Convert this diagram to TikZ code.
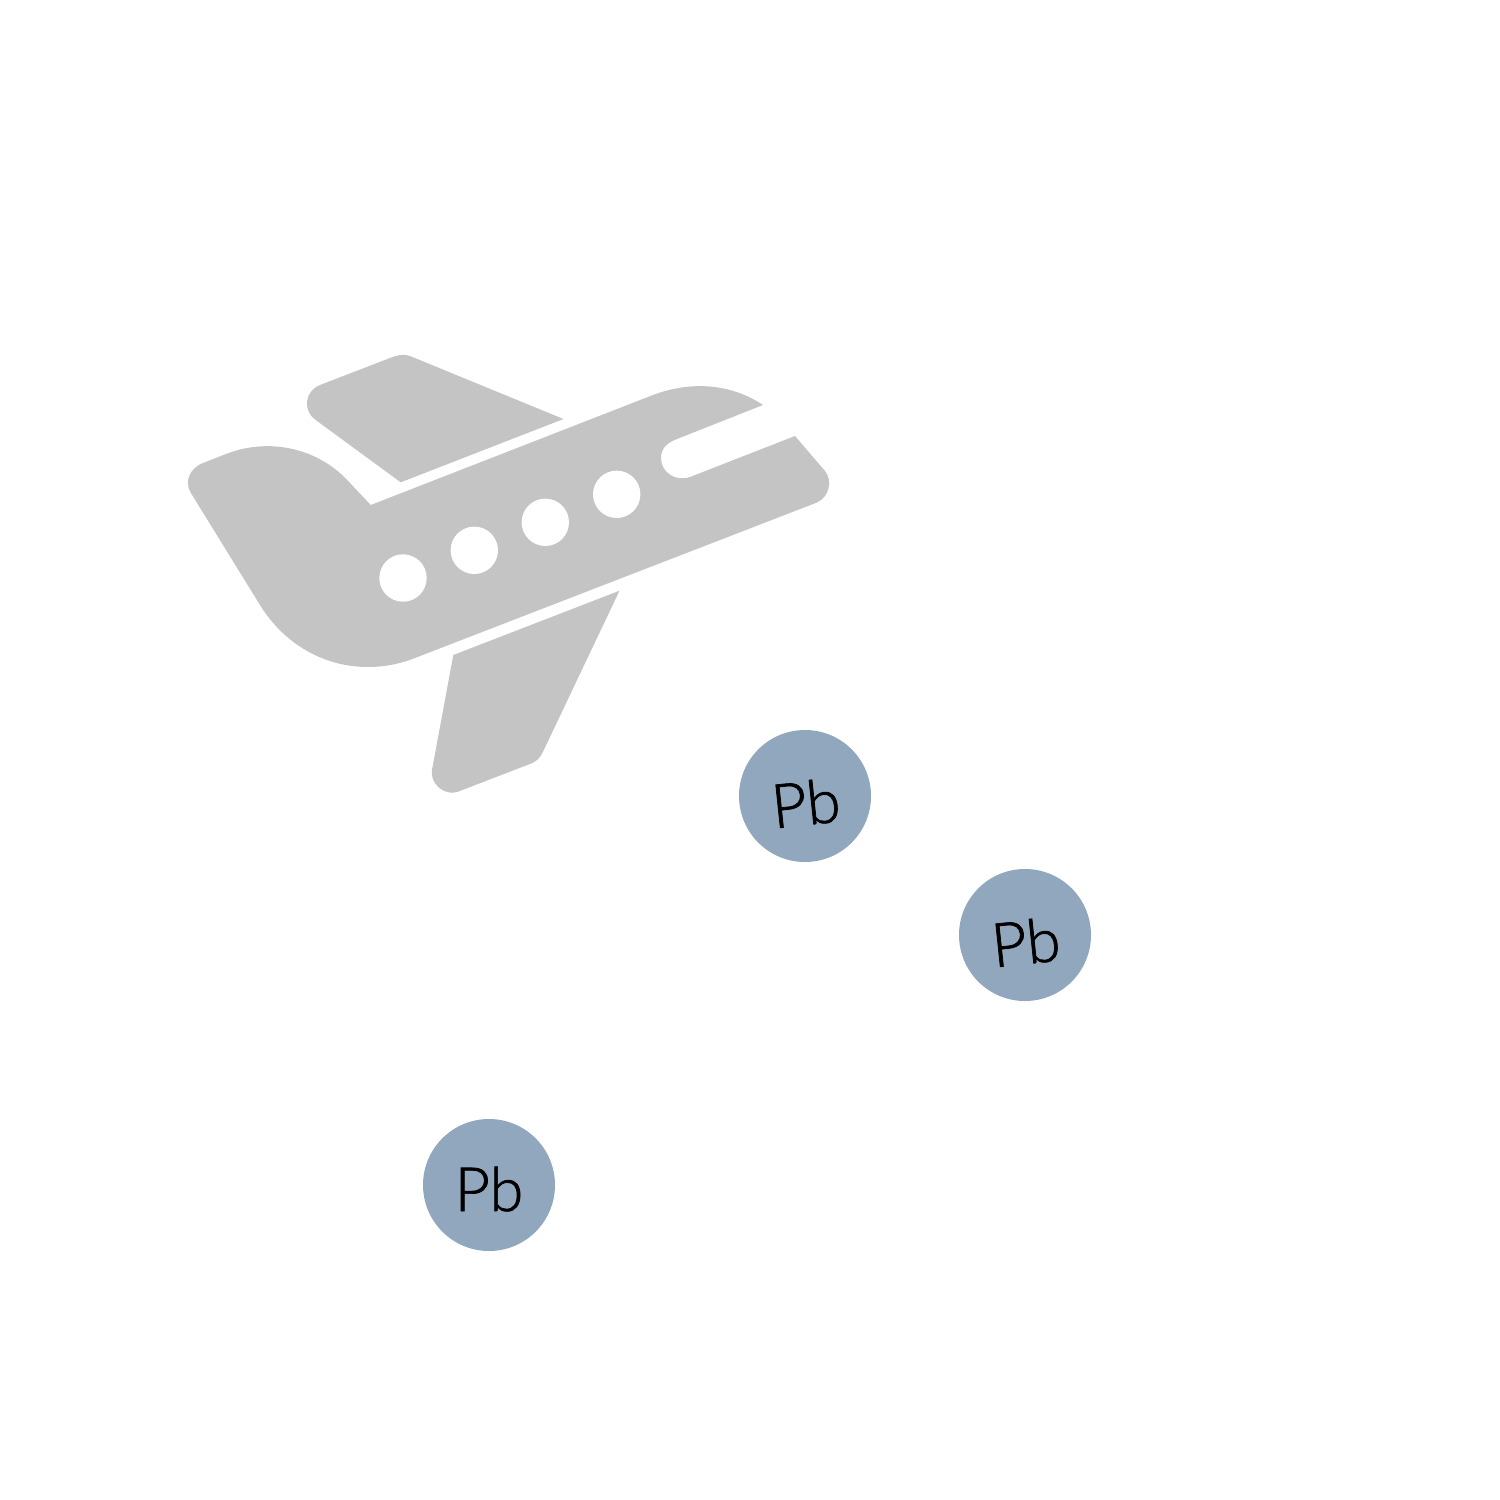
\documentclass[tikz,border=0pt]{standalone}
\usepackage{fontspec}
\setmainfont{TeX Gyre Heros}
\newfontfamily\pbfont{Lato Light}[RawFeature={embolden=1.2}]
\definecolor{planegrey}{HTML}{C4C4C4}
\definecolor{leadblue}{HTML}{90A7BD}
\tikzset{
  plane/.style={fill=planegrey,draw=none},
  hole/.style={fill=white,draw=none},
  lead/.style={circle,fill=leadblue,draw=none,minimum size=66pt,inner sep=0pt,text=black,font=\pbfont\fontsize{30.5}{31}\selectfont}
}
\newcommand{\pblabel}{\raisebox{-13pt}[0pt][0pt]{Pb}}
\newcommand{\pbtilted}{\raisebox{-14.5pt}[0pt][0pt]{Pb}}
\begin{document}
\begin{tikzpicture}[x=0.5pt,y=-0.5pt]
\useasboundingbox (0,0) rectangle (1500,1500);
% fuselage
\path[plane] (370.7,505) -- (653,395)
  .. controls (690,381) and (730,383) .. (763,405)
  -- (677,439)
  .. controls (665,443.5) and (661,450) .. (661,458)
  .. controls (661,472) and (675,482) .. (690,477)
  -- (795,436) -- (825,471)
  .. controls (833,481) and (829,497) .. (817,502.5)
  -- (415,658)
  .. controls (400,664) and (384,667) .. (368,667)
  .. controls (324,667) and (284,644) .. (260,605)
  -- (190.7,492.7)
  .. controls (183.5,480.5) and (191,467.5) .. (203,463)
  -- (226,454)
  .. controls (268,437.5) and (318,447) .. (350,483)
  -- cycle;
% upper wing
\path[plane] (400.7,482.3) -- (563.5,419) -- (410,356)
  .. controls (404,353.5) and (396,355.5) .. (390,358)
  -- (320,385)
  .. controls (305,391) and (302,410) .. (315.7,420)
  -- cycle;
% lower wing
\path[plane] (453.3,655) -- (619.5,590.7) -- (543,751.7)
  .. controls (540,758) and (537,761) .. (531.7,763.3)
  -- (458,791.7)
  .. controls (445,796.7) and (429.5,783.5) .. (432,770)
  -- cycle;
% windows
\path[hole] (403,578) circle[radius=23.7];
\path[hole] (474.3,550.3) circle[radius=23.7];
\path[hole] (545.3,522.3) circle[radius=23.7];
\path[hole] (616.7,494.3) circle[radius=23.7];
% lead particles
\node[lead,rotate=6] (pa) at (805,796) {\pbtilted};
\node[lead,rotate=6] (pb) at (1025,935) {\pbtilted};
\node[lead] (pc) at (489,1185) {\pblabel};
\end{tikzpicture}
\end{document}
